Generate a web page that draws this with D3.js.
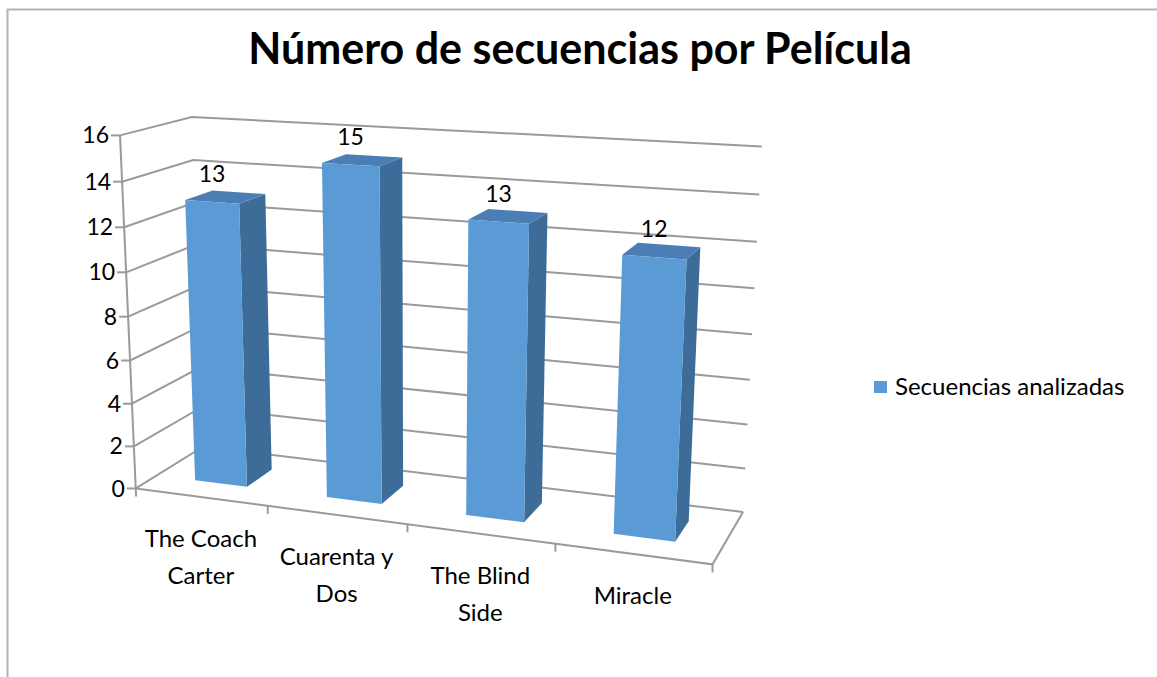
<!DOCTYPE html>
<html>
<head>
<meta charset="utf-8">
<script src="https://cdn.jsdelivr.net/npm/d3@7"></script>
<style>
  body { margin: 0; background: #fff; }
  text { font-family: Lato, 'Open Sans', sans-serif; fill: #000; }
</style>
</head>
<body>
<svg id="chart"></svg>
<script>
const title = 'Número de secuencias por Película';
const categories = [['The Coach', 'Carter'], ['Cuarenta y', 'Dos'], ['The Blind', 'Side'], ['Miracle']];
const values = [13, 15, 13, 12];
const yTicks = [0, 2, 4, 6, 8, 10, 12, 14, 16];
const seriesName = 'Secuencias analizadas';

const width = 1157;
const height = 677;

const colors = { front: '#5b9bd5', side: '#3d6c98', top: '#4a7eb4', grid: '#9a9a9a' };

const svg = d3.select('#chart')
  .attr('width', width)
  .attr('height', height);

// world space: x = category units, y = value (0..1), z = depth (0 front, 1 back)
const x = d3.scaleLinear().domain([0, categories.length]).range([0, 4]);
const y = d3.scaleLinear().domain([0, 16]).range([0, 1]);

// where the corners of the plot box land on the page, used to fit a perspective camera
const anchors = [
  [[0, 0, 0], [136, 489]],
  [[1, 0, 0], [268, 506]],
  [[2, 0, 0], [407, 524]],
  [[3, 0, 0], [555, 544]],
  [[4, 0, 0], [713, 564]],
  [[0, 1, 0], [120, 136]],
  [[0, 0.875, 0], [122, 181]],
  [[0, 0.125, 0], [134, 446]],
  [[0, 1, 1], [192, 117]],
  [[0, 0.875, 1], [193, 160]],
  [[4, 1, 1], [762, 147]],
  [[4, 0.875, 1], [759, 194]],
  [[4, 0, 1], [743, 512]]
];

// least squares DLT fit of a 3x4 projection matrix
const cx = 450, cy = 350, sc = 300;
const fitCamera = pts => {
  const n = 11;
  const ata = d3.range(n).map(() => new Array(n).fill(0));
  const atb = new Array(n).fill(0);
  const addRow = (row, b) => {
    for (let i = 0; i < n; i++) {
      atb[i] += row[i] * b;
      for (let j = 0; j < n; j++) ata[i][j] += row[i] * row[j];
    }
  };
  pts.forEach(([[X, Y, Z], [pu, pv]]) => {
    const u = (pu - cx) / sc, v = (pv - cy) / sc;
    addRow([X, Y, Z, 1, 0, 0, 0, 0, -u * X, -u * Y, -u * Z], u);
    addRow([0, 0, 0, 0, X, Y, Z, 1, -v * X, -v * Y, -v * Z], v);
  });
  for (let c = 0; c < n; c++) {
    let p = c;
    for (let r = c + 1; r < n; r++) if (Math.abs(ata[r][c]) > Math.abs(ata[p][c])) p = r;
    [ata[c], ata[p]] = [ata[p], ata[c]];
    [atb[c], atb[p]] = [atb[p], atb[c]];
    for (let r = c + 1; r < n; r++) {
      const f = ata[r][c] / ata[c][c];
      for (let k = c; k < n; k++) ata[r][k] -= f * ata[c][k];
      atb[r] -= f * atb[c];
    }
  }
  const m = new Array(n).fill(0);
  for (let r = n - 1; r >= 0; r--) {
    let s = atb[r];
    for (let k = r + 1; k < n; k++) s -= ata[r][k] * m[k];
    m[r] = s / ata[r][r];
  }
  return m;
};

const m = fitCamera(anchors);
const project = (X, Y, Z) => {
  const w = m[8] * X + m[9] * Y + m[10] * Z + 1;
  return [
    (m[0] * X + m[1] * Y + m[2] * Z + m[3]) / w * sc + cx,
    (m[4] * X + m[5] * Y + m[6] * Z + m[7]) / w * sc + cy
  ];
};

const line = d3.line();
const poly = pts => line(pts.map(p => project(...p))) + 'Z';

// border
svg.append('path')
  .attr('d', `M7.5,${height} V9.5 H${width}`)
  .attr('fill', 'none')
  .attr('stroke', '#b4b4b4')
  .attr('stroke-width', 2);

// title
svg.append('text')
  .attr('x', 580)
  .attr('y', 64)
  .attr('text-anchor', 'middle')
  .style('font-size', '43px')
  .style('font-weight', 'bold')
  .text(title);

// gridlines on side wall and back wall
const grid = svg.append('g')
  .attr('fill', 'none')
  .attr('stroke', colors.grid)
  .attr('stroke-width', 2);

yTicks.forEach(t => {
  grid.append('path')
    .attr('d', line([project(0, y(t), 0), project(0, y(t), 1), project(4, y(t), 1)]));
});

// floor outline: front edge (category axis) and right edge
grid.append('path')
  .attr('d', line([project(4, 0, 1), project(4, 0, 0), project(0, 0, 0)]));

// value axis line and ticks
const axisTop = project(0, 1, 0);
const axisBottom = project(0, 0, 0);
grid.append('path')
  .attr('d', line([axisTop, [axisBottom[0] + 0.3, axisBottom[1] + 8]]));

yTicks.forEach(t => {
  const p = project(0, y(t), 0);
  grid.append('path').attr('d', line([[p[0] - 9, p[1]], p]));
  svg.append('text')
    .attr('x', p[0] - 11)
    .attr('y', p[1])
    .attr('dy', '0.35em')
    .attr('text-anchor', 'end')
    .style('font-size', '23px')
    .text(t);
});

// category ticks
d3.range(1, categories.length + 1).forEach(i => {
  const p = project(x(i), 0, 0);
  grid.append('path').attr('d', line([p, [p[0], p[1] + 8]]));
});

// category labels
categories.forEach((lines, i) => {
  const p = project(x(i + 0.5), 0, 0);
  const t = svg.append('text')
    .attr('text-anchor', 'middle')
    .style('font-size', '24px');
  lines.forEach((s, k) => {
    t.append('tspan')
      .attr('x', p[0])
      .attr('y', p[1] + 50 + k * 37)
      .text(s);
  });
});

// bars
const barW = 0.4, barZ0 = 0.3, barZ1 = 0.7;
const bars = svg.append('g');
values.forEach((v, i) => {
  const x0 = x(i + 0.5) - barW / 2;
  const x1 = x(i + 0.5) + barW / 2;
  const h = y(v);
  const g = bars.append('g');
  g.append('path')
    .attr('d', poly([[x1, 0, barZ0], [x1, 0, barZ1], [x1, h, barZ1], [x1, h, barZ0]]))
    .attr('fill', colors.side);
  g.append('path')
    .attr('d', poly([[x0, h, barZ0], [x1, h, barZ0], [x1, h, barZ1], [x0, h, barZ1]]))
    .attr('fill', colors.top);
  g.append('path')
    .attr('d', poly([[x0, 0, barZ0], [x1, 0, barZ0], [x1, h, barZ0], [x0, h, barZ0]]))
    .attr('fill', colors.front);

  const lp = project(x(i + 0.5), h, barZ0);
  svg.append('text')
    .attr('x', lp[0])
    .attr('y', lp[1] - 20)
    .attr('text-anchor', 'middle')
    .style('font-size', '23px')
    .text(v);
});

// legend
const legend = svg.append('g').attr('transform', 'translate(874, 387)');
legend.append('rect')
  .attr('x', 0)
  .attr('y', -6)
  .attr('width', 13)
  .attr('height', 12)
  .attr('fill', colors.front);
legend.append('text')
  .attr('x', 21)
  .attr('dy', '0.35em')
  .style('font-size', '24px')
  .text(seriesName);
</script>
</body>
</html>
